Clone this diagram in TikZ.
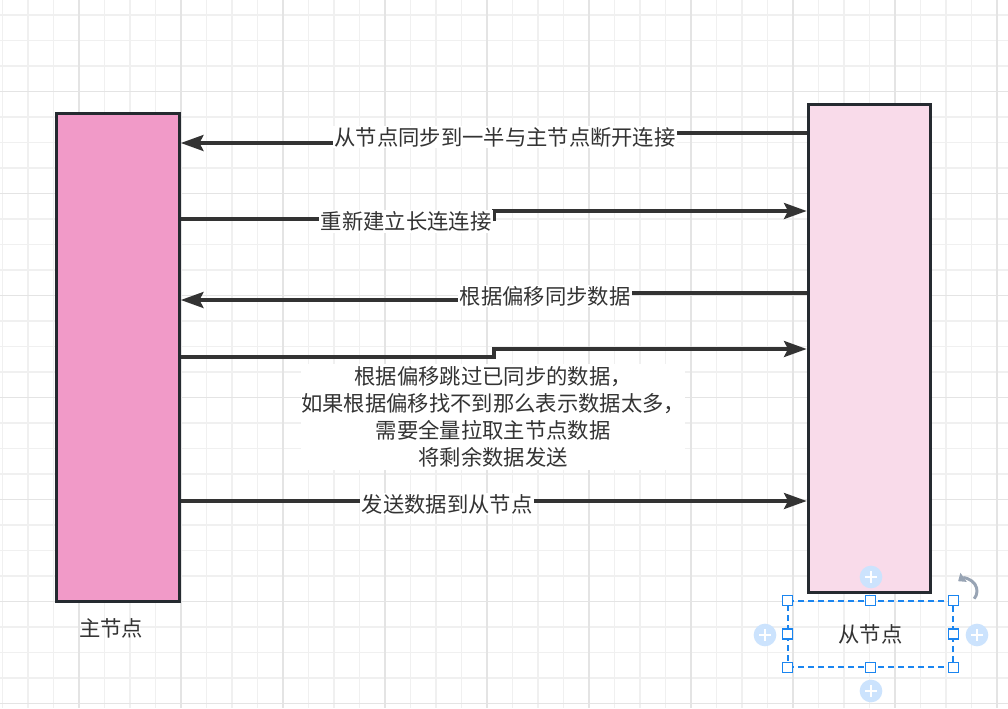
\documentclass[tikz,border=0pt]{standalone}
\usepackage{fontspec}
\setmainfont{Noto Sans CJK SC}
\usepackage{xcolor}
\usetikzlibrary{arrows.meta}

\definecolor{gridminor}{HTML}{F0F0F0}
\definecolor{gridmajor}{HTML}{E4E4E4}
\definecolor{boxline}{HTML}{252A30}
\definecolor{masterfill}{HTML}{F19AC8}
\definecolor{slavefill}{HTML}{F9DBEA}
\definecolor{linegray}{HTML}{333333}
\definecolor{selblue}{HTML}{1A85F0}
\definecolor{plusblue}{HTML}{CCE3FD}
\definecolor{rotgray}{HTML}{98A4B4}

\begin{document}
\begin{tikzpicture}[x=0.75pt,y=-0.75pt]
        \tikzstyle{nodebox} = [rectangle, draw=boxline, line width=2.25pt, minimum width=92pt, minimum height=366pt, inner sep=0pt]
        \tikzstyle{arrow} = [line width=2.5pt, draw=linegray, -{Stealth[length=17pt,width=12pt,inset=3pt]}]
        \tikzstyle{msg} = [fill=white, inner sep=1.2pt, text=linegray, font=\fontsize{16}{20.25}\selectfont]
        \tikzstyle{caption} = [text=linegray, font=\fontsize{16}{20}\selectfont]
        \tikzstyle{handle} = [rectangle, draw=selblue, fill=white, line width=0.8pt, minimum size=7.5pt, inner sep=0pt]
        \tikzstyle{plus} = [circle, fill=plusblue, minimum size=17pt, inner sep=0pt, path picture={
            \draw[white, line width=1.5pt] (path picture bounding box.center) ++(-6,0) -- ++(12,0);
            \draw[white, line width=1.5pt] (path picture bounding box.center) ++(0,-6) -- ++(0,12);}]

        \useasboundingbox (0,0) rectangle (1008,708);
        \fill[white] (0,0) rectangle (1008,708);
        % background grid
        \foreach \k in {-3,...,36}
            \draw[gridminor, line width=0.9pt] (79+25.5*\k,0) -- (79+25.5*\k,708);
        \foreach \k in {-3,...,24}
            \draw[gridminor, line width=0.9pt] (0,91.5+25.5*\k) -- (1008,91.5+25.5*\k);
        \foreach \k in {0,...,9}
            \draw[gridmajor, line width=1pt] (79+102*\k,0) -- (79+102*\k,708);
        \foreach \k in {0,...,6}
            \draw[gridmajor, line width=1pt] (0,91.5+102*\k) -- (1008,91.5+102*\k);

        \node (master) [nodebox, fill=masterfill] at (118,357.4) {};
        \node (slave) [nodebox, fill=slavefill] at (869.5,348) {};

        \node (masterlbl) [caption] at (111,628) {主节点};
        \node (slavelbl) [caption, draw=selblue, dashed, dash pattern=on 4.5pt off 3pt, line width=0.9pt,
            minimum width=123.75pt, minimum height=49.5pt] at (870.5,634) {从节点};

        % messages
        \draw [arrow] (slave.west |- 0,133) -| (505,138) |- (master.east |- 0,143);
        \draw [arrow] (master.east |- 0,219) -| (494,215) |- (slave.west |- 0,211);
        \draw [arrow] (slave.west |- 0,293) -| (545,296) |- (master.east |- 0,300);
        \draw [arrow] (master.east |- 0,357) -| (494,353) |- (slave.west |- 0,349);
        \draw [arrow] (master.east |- 0,501) -- (slave.west |- 0,501);

        \node (m1) [msg] at (505,137) {从节点同步到一半与主节点断开连接};
        \node (m2) [msg] at (406,221) {重新建立长连连接};
        \node (m3) [msg] at (545,296) {根据偏移同步数据};
        \node (m4) [msg, align=center, inner xsep=0pt, inner ysep=2pt] at (493,417)
            {根据偏移跳过已同步的数据，\\如果根据偏移找不到那么表示数据太多，\\需要全量拉取主节点数据\\将剩余数据发送};
        \node (m5) [msg] at (447,504) {发送数据到从节点};

        % selection handles
        \foreach \a in {north west, north, north east, west, east, south west, south, south east}
            \node [handle] at (slavelbl.\a) {};
        \node (addtop) [plus] at (871,577) {};
        \node (addleft) [plus] at (765,635) {};
        \node (addright) [plus] at (977,635) {};
        \node (addbottom) [plus] at (871,691) {};
        \draw[rotgray, line width=2.2pt, {Triangle[length=5pt,width=8pt]}-] (965,591) ++(-125:12) arc[start angle=-125, end angle=40, radius=12];
\end{tikzpicture}
\end{document}
